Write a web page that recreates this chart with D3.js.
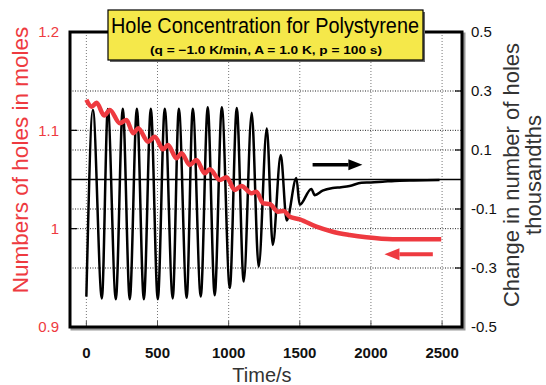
<!DOCTYPE html>
<html>
<head>
<meta charset="utf-8">
<script src="https://cdn.jsdelivr.net/npm/d3@7"></script>
<style>
  body { margin: 0; background: #fff; }
  svg { display: block; font-family: "Liberation Sans", Arial, sans-serif; }
</style>
</head>
<body>
<div id="vis"></div>
<script>
// ---- data ----
// red curve: number of holes (moles), left axis
var redTime = [0, 37, 72, 125, 165, 235, 282, 329, 364, 434, 481, 539, 574, 633, 669,
               726, 774, 832, 867, 938, 985, 1043, 1090, 1160, 1195, 1242, 1289, 1347,
               1387, 1429, 1500, 1617, 1731, 1850, 1968, 2152, 2494];
var redMoles = [1.131, 1.124, 1.128, 1.115, 1.1207, 1.1072, 1.1106, 1.097, 1.1021, 1.0884,
                1.0935, 1.0807, 1.0851, 1.0716, 1.0767, 1.0648, 1.0698, 1.0563, 1.0604,
                1.0495, 1.0522, 1.0393, 1.0435, 1.036, 1.0376, 1.0258, 1.0251, 1.0173,
                1.018, 1.0122, 1.0095, 1.002, 0.9969, 0.9936, 0.9912, 0.9892, 0.9892];

// black curve: change in number of holes (thousandths), right axis
var blackTime = [0, 46, 109, 151, 207, 256, 305, 355, 404, 453, 502, 551, 607, 650, 705,
                 748, 804, 853, 902, 952, 1008, 1057, 1106, 1162, 1211, 1268, 1310, 1366,
                 1408, 1476, 1499, 1581, 1605, 1660, 1731, 1790, 1850, 1933, 2000, 2082,
                 2201, 2300, 2482];
var blackChange = [-0.397, 0.236, -0.403, 0.239, -0.406, 0.240, -0.406, 0.240, -0.406, 0.240,
                   -0.406, 0.240, -0.403, 0.240, -0.401, 0.240, -0.397, 0.245, -0.392, 0.245,
                   -0.368, 0.242, -0.346, 0.226, -0.296, 0.173, -0.222, 0.083, -0.139, 0.005,
                   -0.086, -0.032, -0.053, -0.038, -0.029, -0.026, -0.022, -0.011, -0.010,
                   -0.0075, -0.004, -0.003, -0.0017];

// ticks
var xTicks = [0, 500, 1000, 1500, 2000, 2500];
var leftTicks = [0.9, 1, 1.1, 1.2];
var rightTicks = [-0.5, -0.3, -0.1, 0.1, 0.3, 0.5];

// arrows (start, end) in data units
var blackArrow = {t: [1590, 1940], v: 0.05};
var redArrow = {t: [2435, 2095], v: 0.974};

var w = 546, h = 385;
var red = "#ee3a40";

var svg = d3.select("#vis")
            .append("svg")
            .attr("width", w)
            .attr("height", h);

//scales
var xScale = d3.scaleLinear().domain([-115, 2640]).range([70, 462]);
var yLeft = d3.scaleLinear().domain([0.9, 1.2]).range([327, 32]);
var yRight = d3.scaleLinear().domain([-0.5, 0.5]).range([327, 32]);

var x0 = xScale.range()[0], x1 = xScale.range()[1];
var y0 = yLeft.range()[0], y1 = yLeft.range()[1];

//frame (shadow + white plot area)
svg.append("rect")
    .attr("x", x0 + 2).attr("y", y1 + 2)
    .attr("width", x1 - x0).attr("height", y0 - y1)
    .attr("fill", "none").attr("stroke", "#999").attr("stroke-width", 3);
svg.append("rect")
    .attr("x", x0).attr("y", y1)
    .attr("width", x1 - x0).attr("height", y0 - y1)
    .attr("fill", "#fff");

//grid lines
var grid = svg.append("g");
grid.selectAll(".vg")
    .data(xTicks)
    .enter()
    .append("line")
    .attr("x1", function(d) { return xScale(d); })
    .attr("x2", function(d) { return xScale(d); })
    .attr("y1", y1).attr("y2", y0)
    .attr("stroke", "#777")
    .attr("stroke-width", 1)
    .attr("stroke-dasharray", "1,2");

grid.selectAll(".hgr")
    .data(rightTicks.slice(1, -1))
    .enter()
    .append("line")
    .attr("x1", x0).attr("x2", x1)
    .attr("y1", function(d) { return yRight(d); })
    .attr("y2", function(d) { return yRight(d); })
    .attr("stroke", "#222")
    .attr("stroke-width", 1)
    .attr("stroke-dasharray", "1,1.5");

grid.selectAll(".hgl")
    .data(leftTicks.slice(1, -1))
    .enter()
    .append("line")
    .attr("x1", x0).attr("x2", x1)
    .attr("y1", function(d) { return yLeft(d); })
    .attr("y2", function(d) { return yLeft(d); })
    .attr("stroke", "#222")
    .attr("stroke-width", 1)
    .attr("stroke-dasharray", "1,1.5");

// zero line of right axis
grid.append("line")
    .attr("x1", x0).attr("x2", x1)
    .attr("y1", yRight(0)).attr("y2", yRight(0))
    .attr("stroke", "#000")
    .attr("stroke-width", 1.5);

//inward ticks
grid.selectAll(".lt")
    .data(leftTicks.slice(1, -1))
    .enter()
    .append("line")
    .attr("x1", x0).attr("x2", x0 + 7)
    .attr("y1", function(d) { return yLeft(d); })
    .attr("y2", function(d) { return yLeft(d); })
    .attr("stroke", "#000").attr("stroke-width", 1.2);
grid.selectAll(".rt")
    .data(rightTicks.slice(1, -1))
    .enter()
    .append("line")
    .attr("x1", x1 - 7).attr("x2", x1)
    .attr("y1", function(d) { return yRight(d); })
    .attr("y2", function(d) { return yRight(d); })
    .attr("stroke", "#000").attr("stroke-width", 1.2);
grid.selectAll(".bt")
    .data(xTicks)
    .enter()
    .append("line")
    .attr("x1", function(d) { return xScale(d); })
    .attr("x2", function(d) { return xScale(d); })
    .attr("y1", y0 - 6).attr("y2", y0)
    .attr("stroke", "#555").attr("stroke-width", 1);

//curves
var blackLine = d3.line()
                  .x(function(d, i) { return xScale(blackTime[i]); })
                  .y(function(d) { return yRight(d); })
                  .curve(d3.curveMonotoneX);
svg.append("path")
    .attr("d", blackLine(blackChange))
    .attr("fill", "none")
    .attr("stroke", "#000")
    .attr("stroke-width", 2.5)
    .attr("stroke-linejoin", "round");

var redLine = d3.line()
                .x(function(d, i) { return xScale(redTime[i]); })
                .y(function(d) { return yLeft(d); })
                .curve(d3.curveMonotoneX);
svg.append("path")
    .attr("d", redLine(redMoles))
    .attr("fill", "none")
    .attr("stroke", red)
    .attr("stroke-width", 4.5)
    .attr("stroke-linejoin", "round");

//arrows
function arrow(xa, xb, y, col, sw, hl, hw) {
    var dir = xb > xa ? 1 : -1;
    svg.append("line")
        .attr("x1", xa).attr("x2", xb - dir * hl)
        .attr("y1", y).attr("y2", y)
        .attr("stroke", col).attr("stroke-width", sw);
    svg.append("path")
        .attr("d", "M" + xb + "," + y + "L" + (xb - dir * hl) + "," + (y - hw) +
                   "L" + (xb - dir * hl) + "," + (y + hw) + "Z")
        .attr("fill", col);
}
arrow(xScale(blackArrow.t[0]), xScale(blackArrow.t[1]), yRight(blackArrow.v), "#000", 3.5, 14, 5.5);
arrow(xScale(redArrow.t[0]), xScale(redArrow.t[1]), yLeft(redArrow.v), red, 4, 15, 6);

//frame border
svg.append("rect")
    .attr("x", x0).attr("y", y1)
    .attr("width", x1 - x0).attr("height", y0 - y1)
    .attr("fill", "none").attr("stroke", "#000").attr("stroke-width", 3);

//tick labels
svg.append("g")
    .selectAll("text")
    .data(leftTicks)
    .enter()
    .append("text")
    .attr("x", 59)
    .attr("y", function(d) { return yLeft(d); })
    .attr("dy", "0.36em")
    .attr("text-anchor", "end")
    .attr("fill", red)
    .attr("font-size", "15px")
    .text(function(d) { return String(d); });

svg.append("g")
    .selectAll("text")
    .data(rightTicks)
    .enter()
    .append("text")
    .attr("x", 471)
    .attr("y", function(d) { return yRight(d); })
    .attr("dy", "0.36em")
    .attr("fill", "#111")
    .attr("font-size", "15px")
    .text(function(d) { return String(d); });

svg.append("g")
    .selectAll("text")
    .data(xTicks)
    .enter()
    .append("text")
    .attr("x", function(d) { return xScale(d); })
    .attr("y", 358)
    .attr("text-anchor", "middle")
    .attr("fill", "#111")
    .attr("font-size", "15px")
    .attr("font-weight", "bold")
    .text(function(d) { return String(d); });

//axis titles
svg.append("text")
    .attr("transform", "translate(28,160)rotate(-90)")
    .attr("text-anchor", "middle")
    .attr("fill", red)
    .attr("font-size", "22.5px")
    .text("Numbers of holes in moles");

svg.append("text")
    .attr("transform", "translate(519,175)rotate(-90)")
    .attr("text-anchor", "middle")
    .attr("fill", "#333")
    .attr("font-size", "22px")
    .text("Change in number of holes");
svg.append("text")
    .attr("transform", "translate(541,175)rotate(-90)")
    .attr("text-anchor", "middle")
    .attr("fill", "#333")
    .attr("font-size", "22px")
    .text("thousandths");

svg.append("text")
    .attr("x", 262)
    .attr("y", 382)
    .attr("text-anchor", "middle")
    .attr("fill", "#333")
    .attr("font-size", "20px")
    .text("Time/s");

//title box
svg.append("rect")
    .attr("x", 110).attr("y", 12)
    .attr("width", 315).attr("height", 50)
    .attr("fill", "#666");
svg.append("rect")
    .attr("x", 108).attr("y", 10)
    .attr("width", 315).attr("height", 50)
    .attr("fill", "#f5e84a")
    .attr("stroke", "#000")
    .attr("stroke-width", 1.2);
svg.append("text")
    .attr("x", 265).attr("y", 33)
    .attr("text-anchor", "middle")
    .attr("font-size", "22px")
    .attr("textLength", 308)
    .attr("lengthAdjust", "spacingAndGlyphs")
    .attr("fill", "#000")
    .text("Hole Concentration for Polystyrene");
svg.append("text")
    .attr("x", 266).attr("y", 54)
    .attr("text-anchor", "middle")
    .attr("font-size", "11.5px")
    .attr("font-weight", "bold")
    .attr("textLength", 232)
    .attr("lengthAdjust", "spacingAndGlyphs")
    .attr("fill", "#000")
    .text("(q = \u22121.0 K/min, A = 1.0 K, p = 100 s)");
</script>
</body>
</html>
